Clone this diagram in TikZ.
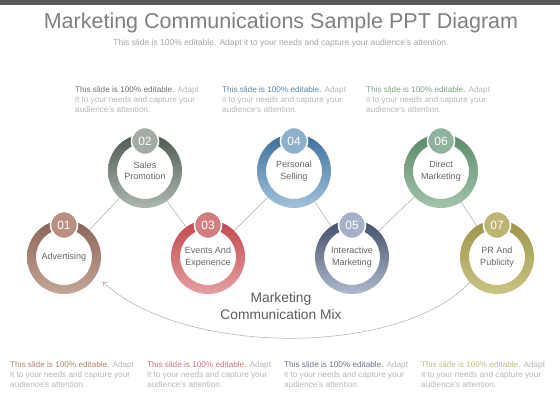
\documentclass[tikz,border=0pt]{standalone}
\usepackage{fontspec}
\setmainfont{Liberation Sans}
\usetikzlibrary{arrows.meta}
\definecolor{bargray}{HTML}{595959}
\definecolor{titlegray}{HTML}{808080}
\definecolor{subgray}{HTML}{A6A6A6}
\definecolor{labelgray}{HTML}{666666}
\definecolor{notegray}{HTML}{B8B8B8}
\definecolor{linegray}{HTML}{ABABAB}
% ring colours: top, bottom, badge
\definecolor{advtop}{HTML}{8A6356}\definecolor{advbot}{HTML}{C4A596}\definecolor{advbdg}{HTML}{B98F81}
\definecolor{salestop}{HTML}{4E5951}\definecolor{salesbot}{HTML}{ADB9AF}\definecolor{salesbdg}{HTML}{A2ACA4}
\definecolor{eventtop}{HTML}{C2474E}\definecolor{eventbot}{HTML}{E4A0A2}\definecolor{eventbdg}{HTML}{D27E81}
\definecolor{perstop}{HTML}{3C6F9B}\definecolor{persbot}{HTML}{A2C2DB}\definecolor{persbdg}{HTML}{8DB0CD}
\definecolor{intertop}{HTML}{414E67}\definecolor{interbot}{HTML}{AEB9CC}\definecolor{interbdg}{HTML}{A5B1C6}
\definecolor{directtop}{HTML}{5A8A68}\definecolor{directbot}{HTML}{A3C4AB}\definecolor{directbdg}{HTML}{8FB39A}
\definecolor{prtop}{HTML}{9C954A}\definecolor{prbot}{HTML}{CBC382}\definecolor{prbdg}{HTML}{BDB573}
% note colours
\definecolor{notesales}{HTML}{6E7571}
\definecolor{notepers}{HTML}{5A86AA}
\definecolor{notedirect}{HTML}{7EA488}
\definecolor{noteadv}{HTML}{B08474}
\definecolor{noteevent}{HTML}{D0747A}
\definecolor{noteinter}{HTML}{6A7892}
\definecolor{notepr}{HTML}{C5BD74}
\newcommand{\notetext}[1]{\textcolor{#1}{This slide is 100\% editable.} Adapt\\it to your needs and capture your\\audience's attention.}

\begin{document}
\begin{tikzpicture}[x=1pt,y=-1pt,
    ring/.style={circle,minimum size=74pt,inner sep=0pt,outer sep=0pt,align=center,
      text=labelgray,font=\fontsize{9}{11.5}\selectfont},
    badge/.style={circle,minimum size=27pt,inner sep=0pt,draw=white,line width=1.5pt,
      text=white,font=\fontsize{12}{12}\selectfont},
    link/.style={draw=linegray,line width=0.5pt},
    note/.style={anchor=north west,align=left,inner sep=0pt,text=notegray,
      font=\fontsize{8.2}{10}\selectfont}]
    \useasboundingbox[fill=white] (0,0) rectangle (560,420);
    \fill[bargray] (0,0) rectangle (560,5);
    \node[text=titlegray,font=\fontsize{21.5}{24}\selectfont] (title) at (281,23) {Marketing Communications Sample PPT Diagram};
    \node[text=subgray,font=\fontsize{8.5}{10}\selectfont] (sub) at (281,43) {This slide is 100\% editable. Adapt it to your needs and capture your audience's attention.};

    % rings
    \shade[top color=advtop,bottom color=advbot,even odd rule] (64,257) circle (37) circle (28);
    \shade[top color=salestop,bottom color=salesbot,even odd rule] (145,171) circle (37) circle (28);
    \shade[top color=eventtop,bottom color=eventbot,even odd rule] (208,257) circle (37) circle (28);
    \shade[top color=perstop,bottom color=persbot,even odd rule] (294,171) circle (37) circle (28);
    \shade[top color=intertop,bottom color=interbot,even odd rule] (352,257) circle (37) circle (28);
    \shade[top color=directtop,bottom color=directbot,even odd rule] (441,171) circle (37) circle (28);
    \shade[top color=prtop,bottom color=prbot,even odd rule] (497,257) circle (37) circle (28);

    \node[ring] (n1) at (64,257) {Advertising};
    \node[ring] (n2) at (145,171) {Sales\\Promotion};
    \node[ring] (n3) at (208,257) {Events And\\Experience};
    \node[ring] (n4) at (294,171) {Personal\\Selling};
    \node[ring] (n5) at (352,257) {Interactive\\Marketing};
    \node[ring] (n6) at (441,171) {Direct\\Marketing};
    \node[ring] (n7) at (497,257) {PR And\\Publicity};

    \draw[link] (n1) -- (n2);
    \draw[link] (n2) -- (n3);
    \draw[link] (n3) -- (n4);
    \draw[link] (n4) -- (n5);
    \draw[link] (n5) -- (n6);
    \draw[link] (n6) -- (n7);
    \draw[link,-{To[length=4pt,width=6pt]},shorten >=9pt] (n7.223) .. controls (400,357) and (183,357) .. (n1.-30);

    % badges
    \node[badge,fill=advbdg] (b1) at (64,225) {01};
    \node[badge,fill=salesbdg] (b2) at (145,141) {02};
    \node[badge,fill=eventbdg] (b3) at (208,225) {03};
    \node[badge,fill=persbdg] (b4) at (294,141) {04};
    \node[badge,fill=interbdg] (b5) at (352,225) {05};
    \node[badge,fill=directbdg] (b6) at (441,141) {06};
    \node[badge,fill=prbdg] (b7) at (497,225) {07};

    \node[align=center,text=labelgray!90!black,font=\fontsize{13.8}{17}\selectfont] (mix) at (281,306) {Marketing\\Communication Mix};

    % notes
    \node[note] (t1) at (75,86) {\notetext{notesales}};
    \node[note] (t2) at (222,86) {\notetext{notepers}};
    \node[note] (t3) at (366,86) {\notetext{notedirect}};
    \node[note] (d1) at (10,361) {\notetext{noteadv}};
    \node[note] (d2) at (147,361) {\notetext{noteevent}};
    \node[note] (d3) at (284,361) {\notetext{noteinter}};
    \node[note] (d4) at (421,361) {\notetext{notepr}};
\end{tikzpicture}
\end{document}
